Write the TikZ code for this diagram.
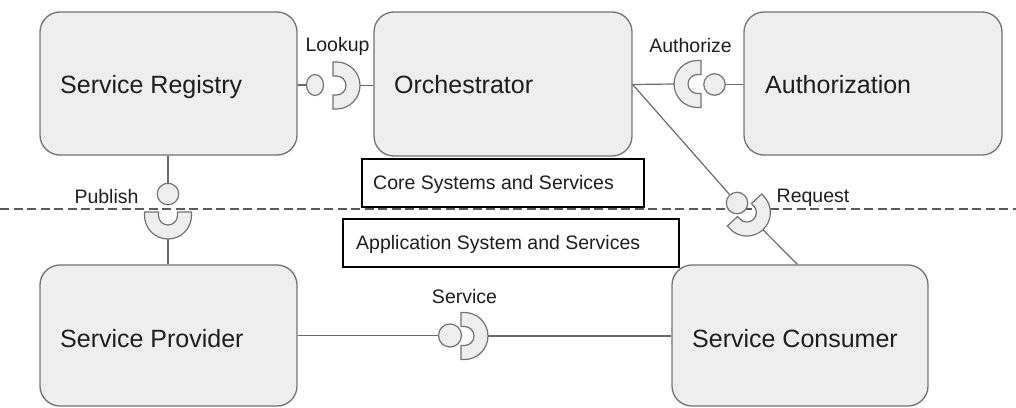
\documentclass[tikz,border=0pt]{standalone}
\usepackage{fontspec}
\setmainfont{Liberation Sans}
\usetikzlibrary{calc,shapes.geometric}

\definecolor{boxfill}{HTML}{EEEEEE}
\definecolor{boxline}{HTML}{727272}
\definecolor{wire}{HTML}{6A6A6A}
\definecolor{ink}{HTML}{1E1E1E}
\definecolor{rule}{HTML}{5A5A5A}

% half-ring "socket": #1 = centre of the flat side, #2 = direction of the bulge
\newcommand{\socketat}[2]{%
  \filldraw[socket]
    ($(#1)+(#2+90:23.5)$) -- ($(#1)+(#2:3.5)+(#2+90:23.5)$)
    arc[start angle=#2+90, end angle=#2-90, radius=23.5]
    -- ($(#1)+(#2-90:23.5)$) -- ($(#1)+(#2-90:9.5)$)
    -- ($(#1)+(#2:3.5)+(#2-90:9.5)$)
    arc[start angle=#2-90, end angle=#2+90, radius=9.5]
    -- ($(#1)+(#2+90:9.5)$) -- cycle;
}

\tikzset{
  sysbox/.style={draw=boxline, fill=boxfill, line width=1.3pt,
    rounded corners=20pt, inner sep=0pt},
  bigtxt/.style={text=ink, inner sep=0pt, anchor=base west,
    font=\fontsize{25}{30}\selectfont},
  smalltxt/.style={text=ink, inner sep=0pt, anchor=base,
    font=\fontsize{19.5}{23}\selectfont},
  laytxt/.style={text=ink, inner sep=0pt, anchor=base west,
    font=\fontsize{19.5}{23}\selectfont},
  laybox/.style={draw=black, fill=white, line width=1.2pt, inner sep=0pt},
  socket/.style={draw=boxline, fill=boxfill, line width=1.2pt},
  ball/.style={circle, draw=boxline, fill=boxfill, line width=1.2pt,
    inner sep=0pt, minimum size=21.5pt},
  wire/.style={draw=wire, line width=1.2pt},
  divider/.style={draw=rule, line width=1.2pt, dash pattern=on 9pt off 4.5pt},
}

\begin{document}
\begin{tikzpicture}[x=1pt, y=-1pt]
\useasboundingbox (0,0) rectangle (1016,407);

% layer divider
\coordinate (divL) at (0,209);
\coordinate (divR) at (1016,209);
\draw[divider] (divL) -- (divR);

% systems
\node[sysbox, minimum width=257pt, minimum height=143pt] (reg) at (168.5,83.5) {};
\node[sysbox, minimum width=258pt, minimum height=144pt] (orc) at (503,84) {};
\node[sysbox, minimum width=258pt, minimum height=143pt] (ath) at (873,83.5) {};
\node[sysbox, minimum width=257pt, minimum height=141pt] (prv) at (168.5,335.5) {};
\node[sysbox, minimum width=256pt, minimum height=141pt] (con) at (800,335.5) {};

\node[bigtxt] (regT) at (60,93) {Service Registry};
\node[bigtxt] (orcT) at (394,93) {Orchestrator};
\node[bigtxt] (athT) at (765,93) {Authorization};
\node[bigtxt] (prvT) at (60,347) {Service Provider};
\node[bigtxt] (conT) at (692,347) {Service Consumer};

% layer captions
\node[laybox, minimum width=282pt, minimum height=48pt] (core) at (503,183) {};
\node[laytxt] (coreT) at (373,189) {Core Systems and Services};
\node[laybox, minimum width=336pt, minimum height=48pt] (app) at (511,243) {};
\node[laytxt] (appT) at (356,249) {Application System and Services};

% sockets (required interfaces)
\coordinate (lkS) at (333,85.5);
\coordinate (auS) at (701,84);
\coordinate (rqS) at (744.5,210);
\coordinate (pbS) at (168,212);
\coordinate (svS) at (461,336);
\socketat{lkS}{0}
\socketat{auS}{180}
\socketat{rqS}{47}
\socketat{pbS}{90}
\socketat{svS}{0}
\coordinate (lkT) at ($(lkS)+(0:27)$);
\coordinate (auT) at ($(auS)+(180:27)$);
\coordinate (rqT) at ($(rqS)+(47:27)$);
\coordinate (pbT) at ($(pbS)+(90:27)$);
\coordinate (svT) at ($(svS)+(0:27)$);

% balls (provided interfaces)
\node[ball, ellipse, minimum width=17pt, minimum height=21pt] (lkC) at (315,85) {};
\node[ball] (auC) at (714.5,84.5) {};
\node[ball] (rqC) at (737,203) {};
\node[ball] (pbC) at (168,194) {};
\node[ball, minimum size=23pt] (svC) at (450,335.5) {};

% connectors
\draw[wire] (lkC -| reg.east) -- (lkC);
\draw[wire] (lkT) -- (lkT -| orc.west);
\draw[wire] (auC -| orc.east) -- (auT);
\draw[wire] (auC) -- (auC -| ath.west);
\draw[wire] (auC -| orc.east) -- (rqC);
\draw[wire] (rqT) -- ($(con.north west)+(126,0)$);
\draw[wire] (pbC |- reg.south) -- (pbC);
\draw[wire] (pbT) -- (pbT |- prv.north);
\draw[wire] (svC -| prv.east) -- (svC);
\draw[wire] (svT) -- (svT -| con.west);

% interface labels
\node[smalltxt] (lkL) at (337.5,51) {Lookup};
\node[smalltxt] (auL) at (690.5,52) {Authorize};
\node[smalltxt] (pbL) at (106.5,203) {Publish};
\node[smalltxt] (rqL) at (813,202) {Request};
\node[smalltxt] (svL) at (464.5,303) {Service};
\end{tikzpicture}
\end{document}
